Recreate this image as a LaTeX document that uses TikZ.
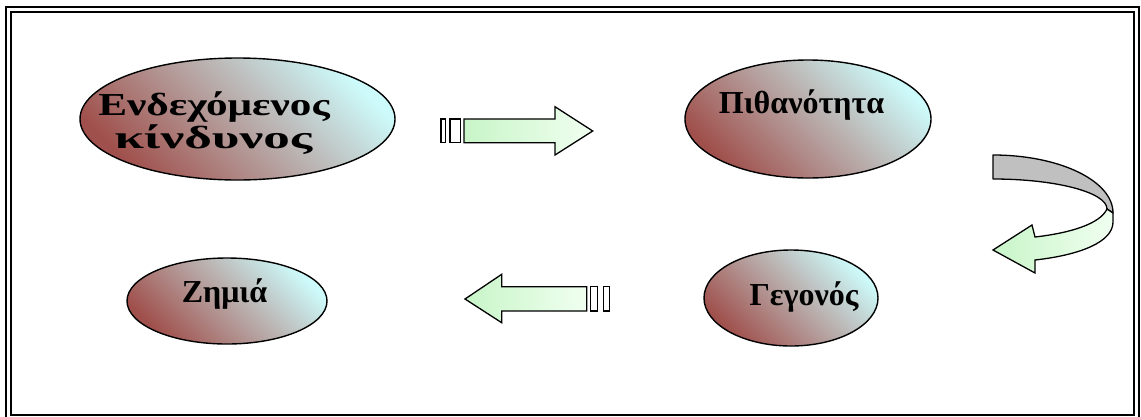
\documentclass[tikz,border=0pt]{standalone}
\usepackage{fontspec}
\setmainfont{Liberation Serif}
\usetikzlibrary{shapes.geometric,calc}
\definecolor{redbr}{RGB}{160,80,76}
\definecolor{midg}{RGB}{176,180,180}
\definecolor{cyanlt}{RGB}{205,250,250}
\definecolor{greenA}{RGB}{200,245,200}
\definecolor{greenB}{RGB}{240,255,240}
\definecolor{bandgray}{RGB}{192,192,192}
\begin{document}
\begin{tikzpicture}[x=1pt,y=-1pt,
  oval/.style={ellipse,draw=black,line width=1.4pt,inner sep=0pt,
     bottom color=redbr,middle color=midg,top color=cyanlt,shading angle=-45},
  txt/.style={font=\bfseries\fontsize{32}{35}\selectfont,inner sep=0pt,anchor=base},
  arr/.style={draw=black,line width=1.3pt,line join=miter,left color=greenA,right color=greenB},
  bar/.style={draw=black,line width=1.3pt,fill=white},
  frame/.style={draw=black,line width=2pt}]
\useasboundingbox (0,0) rectangle (1141,416);
% frame
\draw[frame] (5.5,420) -- (5.5,6.5) -- (1138.5,6.5) -- (1138.5,420);
\draw[frame] (11,12) rectangle (1134,414.5);
% ellipses
\node[oval,minimum width=315pt,minimum height=122pt] (e1) at (237.5,119) {};
\node[oval,minimum width=246pt,minimum height=118pt] (e2) at (808,119) {};
\node[oval,minimum width=174pt,minimum height=96pt] (e3) at (791,298) {};
\node[oval,minimum width=200pt,minimum height=86pt] (e4) at (227,301) {};
% texts
\node[txt,xscale=1.35] (t1a) at (214,115) {Ενδεχόμενος};
\node[txt,xscale=1.66] (t1b) at (213.5,148) {κίνδυνος};
\node[txt] (t2) at (801.5,113) {Πιθανότητα};
\node[txt] (t3) at (804,305) {Γεγονός};
\node[txt] (t4) at (224.5,302) {Ζημιά};
% right arrow
\draw[bar] (441,119) rectangle (445.5,142.7);
\draw[bar] (450,119) rectangle (460.5,142.7);
\draw[arr] (464,119) -- (555,119) -- (555,106.7) -- (592.7,131) -- (555,155) -- (555,142.7) -- (464,142.7) -- cycle;
% left arrow
\draw[bar] (603.3,286.7) rectangle (609.3,311);
\draw[bar] (590.7,286.7) rectangle (597.7,311);
\draw[arr] (586.7,286.7) -- (501.7,286.7) -- (501.7,274.3) -- (465,299) -- (501.7,322.7) -- (501.7,311) -- (586.7,311) -- cycle;
% curved arrow
\draw[line width=1.3pt,fill=bandgray,line join=round] (993,155) -- (993,179)
   .. controls (1056,179) and (1107,192.4) .. (1107,209) -- (1113,213)
   .. controls (1113,180.5) and (1059,155) .. (993,155) -- cycle;
\draw[arr,line join=miter] (1107,209) .. controls (1100,224) and (1070,233) .. (1035,237)
   -- (1032,225) -- (993,250) -- (1035,273) -- (1035,260)
   .. controls (1080,255) and (1113,242) .. (1113,222) -- (1113,213) -- cycle;
\end{tikzpicture}
\end{document}
